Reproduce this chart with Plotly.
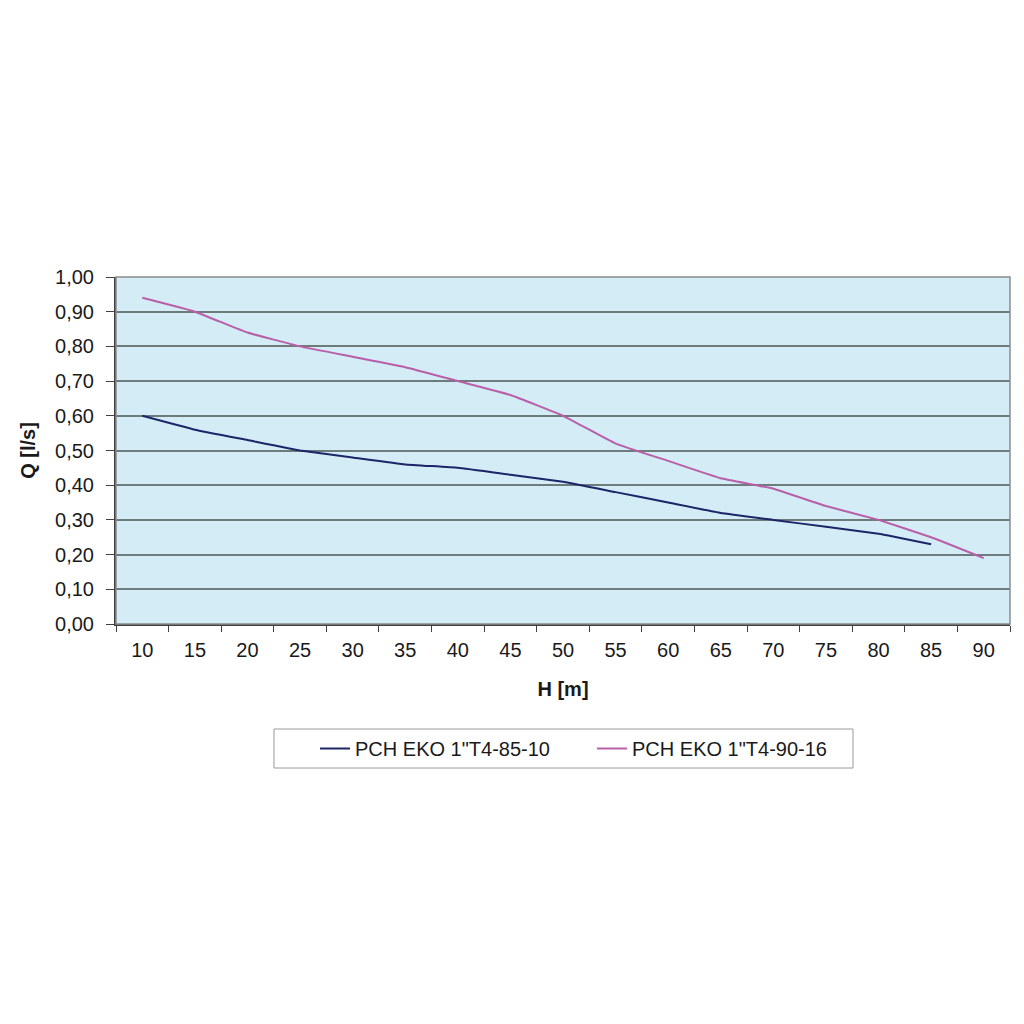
import plotly.graph_objects as go

h_labels = ["10", "15", "20", "25", "30", "35", "40", "45", "50",
            "55", "60", "65", "70", "75", "80", "85", "90"]
q_85_10 = [0.60, 0.56, 0.53, 0.50, 0.48, 0.46, 0.45, 0.43, 0.41,
           0.38, 0.35, 0.32, 0.30, 0.28, 0.26, 0.23]
q_90_16 = [0.94, 0.90, 0.84, 0.80, 0.77, 0.74, 0.70, 0.66, 0.60,
           0.52, 0.47, 0.42, 0.39, 0.34, 0.30, 0.25, 0.19]

font = "Liberation Sans, Arial, sans-serif"

fig = go.Figure()
fig.add_trace(go.Scatter(x=h_labels[:len(q_85_10)], y=q_85_10, mode="lines",
                         name='PCH EKO 1"T4-85-10',
                         line=dict(color="#1c2568", width=2, shape="spline", smoothing=0.3)))
fig.add_trace(go.Scatter(x=h_labels, y=q_90_16, mode="lines",
                         name='PCH EKO 1"T4-90-16',
                         line=dict(color="#b85fa8", width=2, shape="spline", smoothing=0.3)))

# grey frame round the plot area
fig.add_shape(type="rect", xref="paper", yref="paper", x0=0, x1=1, y0=0, y1=1,
              line=dict(color="#8c8c8c", width=1.5), layer="above")
# legend frame (drawn as a shape so the entries can sit with wider padding)
fig.add_shape(type="rect", xref="paper", yref="paper", x0=0.1767, x1=0.8244,
              y0=-0.415, y1=-0.3026, line=dict(color="#9a9a9a", width=1))

fig.update_layout(
    width=1024, height=1024,
    margin=dict(l=108, r=22, t=269, b=408),
    paper_bgcolor="white", plot_bgcolor="#d3ecf6",
    separators=", ",
    font=dict(family=font, size=20, color="#1a1a1a"),
    showlegend=True,
    legend=dict(orientation="h", x=0.2226, xanchor="left", y=-0.3588, yanchor="middle",
                borderwidth=0, bgcolor="rgba(0,0,0,0)", font=dict(size=20),
                entrywidth=232, entrywidthmode="pixels"),
    xaxis=dict(type="category", categoryorder="array", categoryarray=h_labels,
               range=[-0.5, len(h_labels) - 0.5], tickson="boundaries",
               ticks="outside", ticklen=6, tickcolor="#404040", ticklabelstandoff=7,
               showline=True, linecolor="#404040", linewidth=2, showgrid=False,
               title=dict(text="<b>H [m]</b>", font=dict(size=20), standoff=22)),
    yaxis=dict(range=[0, 1.0], dtick=0.1, tickformat=".2f",
               ticks="outside", ticklen=8, tickcolor="#404040", ticklabelstandoff=8,
               showline=True, linecolor="#404040", linewidth=2,
               showgrid=True, gridcolor="#6d7b7b", gridwidth=1.5, zeroline=False,
               title=dict(text="<b>Q [l/s]</b>", font=dict(size=20), standoff=14)),
)

fig.write_html("out.html")
